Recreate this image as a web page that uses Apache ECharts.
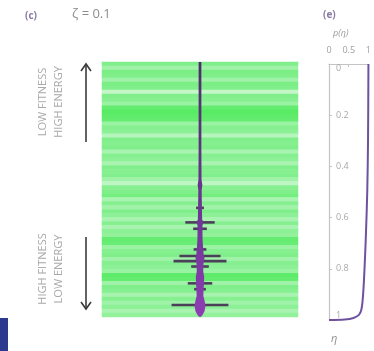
<!DOCTYPE html>
<html><head><meta charset="utf-8">
<script src="https://cdn.jsdelivr.net/npm/echarts@6/dist/echarts.min.js"></script>
<style>html,body{margin:0;padding:0;background:#fff}#c{width:374px;height:351px}</style>
</head><body><div id="c"></div>
<script>
// stripe intensities (top -> bottom), 0 = pale, 1 = bright green
const stripeIntensity = [0.6,0.35,0.65,0.6,0.35,0.65,0.6,0.1,0.6,0.55,0.4,0.85,0.95,0.9,0.85,0.4,
  0.55,0.5,0.2,0.6,0.55,0.6,0.3,0.55,0.5,0.3,0.6,0.55,0.6,0.35,0.15,0.55,
  0.6,0.7,0.3,0.55,0.35,0.6,0.5,0.3,0.55,0.3,0.5,0.45,0.85,0.8,0.4,0.55,
  0.6,0.35,0.55,0.5,0.4,0.9,0.85,0.35,0.6,0.55,0.3,0.55,0.35,0.5,0.3,0.45];
// spine profile: position along panel (0 top, 1 bottom) and half width
const spineEta  = [0,0.346,0.463,0.482,0.502,0.58,0.619,0.626,0.642,0.696,0.728,0.751,0.77,0.79,0.821,0.844,0.872,0.899,0.918,0.938,0.957,0.977,0.992,1.0];
const spineHalf = [0.014,0.014,0.016,0.024,0.017,0.02,0.022,0.036,0.025,0.026,0.032,0.036,0.046,0.036,0.033,0.043,0.04,0.036,0.034,0.048,0.056,0.046,0.026,0.006];
// error bars
const errEta  = [0.572,0.629,0.654,0.735,0.761,0.781,0.802,0.868,0.891,0.953];
const errHalf = [0.04,0.15,0.07,0.065,0.21,0.27,0.09,0.125,0.06,0.29];
// p(eta) curve
const curveEta = [0,0.3,0.5,0.65,0.75,0.85,0.92,0.96,0.98,0.992,0.998,1.0];
const curveP   = [1.0,0.99,0.97,0.94,0.915,0.885,0.855,0.82,0.76,0.62,0.4,0.0];
const pTicks = [0,0.5,1];
const etaTicks = [0,0.2,0.4,0.6,0.8,1];

const chart = echarts.init(document.getElementById('c'));
const FONT = '"Open Sans", "DejaVu Sans", sans-serif';
const rowCats = stripeIntensity.map((_, i) => 'r' + i);

chart.setOption({
  animation: false,
  grid: [
    {left: 102, top: 62, width: 196, height: 255},
    {left: 102, top: 62, width: 196, height: 255},
    {left: 329, top: 64, width: 40, height: 256}
  ],
  xAxis: [
    {gridIndex: 0, type: 'category', data: ['c'], show: false},
    {gridIndex: 1, type: 'value', min: -1, max: 1, show: false},
    {gridIndex: 2, type: 'value', position: 'top', min: 0, max: 1, interval: 0.5,
     axisLine: {show: true, lineStyle: {color: '#c4c4c4', width: 1.2}},
     axisTick: {show: true, inside: true, length: 3, lineStyle: {color: '#c4c4c4'}},
     splitLine: {show: false},
     axisLabel: {color: '#a0a0a0', fontSize: 9, margin: 9, fontFamily: FONT,
       formatter: v => pTicks.includes(v) ? String(v) : ''}}
  ],
  yAxis: [
    {gridIndex: 0, type: 'category', data: rowCats, inverse: true, show: false},
    {gridIndex: 1, type: 'value', min: 0, max: 1, inverse: true, show: false},
    {gridIndex: 2, type: 'value', min: 0, max: 1, interval: 0.2, inverse: true,
     axisLine: {show: true, lineStyle: {color: '#c4c4c4', width: 1.2}},
     axisTick: {show: true, inside: true, length: 3, lineStyle: {color: '#c4c4c4'}},
     splitLine: {show: false},
     axisLabel: {inside: true, color: '#a8a8a8', fontSize: 9, margin: 7, fontFamily: FONT,
       verticalAlignMinLabel: 'top', verticalAlignMaxLabel: 'bottom',
       formatter: v => { const t = etaTicks.find(e => Math.abs(e - v) < 1e-6); return t === undefined ? '' : String(t); }}}
  ],
  visualMap: {show: false, seriesIndex: 0, dimension: 2, min: 0, max: 1,
    inRange: {color: ['#d2f8d5', '#8cf096', '#52ea5e']}},
  series: [
    {type: 'heatmap', xAxisIndex: 0, yAxisIndex: 0,
     data: stripeIntensity.map((v, i) => [0, i, v]), itemStyle: {borderWidth: 0}},
    {type: 'custom', xAxisIndex: 1, yAxisIndex: 1, clip: false,
     data: errEta.map((e, i) => [e, errHalf[i]]),
     renderItem: (params, api) => {
       const e = api.value(0), h = api.value(1);
       const a = api.coord([-h, e]), b = api.coord([h, e]);
       return {type: 'line', shape: {x1: a[0], y1: a[1], x2: b[0], y2: b[1]},
         style: {stroke: '#4b3f5a', lineWidth: 2.6}};
     }},
    {type: 'custom', xAxisIndex: 1, yAxisIndex: 1, clip: false, z: 3,
     data: [[0, 0]],
     renderItem: (params, api) => {
       const pts = [];
       for (let i = 0; i < spineEta.length; i++) pts.push(api.coord([-spineHalf[i], spineEta[i]]));
       for (let i = spineEta.length - 1; i >= 0; i--) pts.push(api.coord([spineHalf[i], spineEta[i]]));
       return {type: 'polygon', shape: {points: pts, smooth: 0},
         style: {fill: {type: 'linear', x: 0, y: 62, x2: 0, y2: 317, global: true,
           colorStops: [{offset: 0, color: '#4e2d6c'}, {offset: 0.55, color: '#6a3590'}, {offset: 1, color: '#8e3db4'}]},
           stroke: null}};
     }},
    {type: 'line', xAxisIndex: 2, yAxisIndex: 2, clip: false, symbol: 'none', smooth: 0.3,
     data: curveEta.map((e, i) => [curveP[i], e]),
     lineStyle: {color: '#6e52a0', width: 2}}
  ],
  graphic: [
    {type: 'text', x: 25, y: 11, style: {text: '(c)', fill: '#8a7ba3', font: 'bold 10px ' + FONT}},
    {type: 'text', x: 72, y: 8, style: {text: 'ζ = 0.1', fill: '#8c8c8c', font: '13px ' + FONT}},
    {type: 'text', x: 323, y: 10, style: {text: '(e)', fill: '#8a7ba3', font: 'bold 10px ' + FONT}},
    {type: 'text', x: 333, y: 29, style: {text: 'p(η)', fill: '#9a9a9a', font: 'italic 9px ' + FONT}},
    {type: 'text', x: 331, y: 333, style: {text: 'η', fill: '#8c8c8c', font: 'italic 11px ' + FONT}},
    {type: 'text', x: 51, y: 102, rotation: Math.PI / 2,
     style: {text: 'LOW FITNESS\nHIGH ENERGY', fill: '#a8a8a8', font: '11px ' + FONT,
       textAlign: 'center', textVerticalAlign: 'middle', lineHeight: 16}},
    {type: 'text', x: 51, y: 269, rotation: Math.PI / 2,
     style: {text: 'HIGH FITNESS\nLOW ENERGY', fill: '#a8a8a8', font: '11px ' + FONT,
       textAlign: 'center', textVerticalAlign: 'middle', lineHeight: 16}},
    {type: 'line', shape: {x1: 86, y1: 142, x2: 86, y2: 65}, style: {stroke: '#3c3c3c', lineWidth: 1.6}},
    {type: 'polyline', shape: {points: [[81, 71], [86, 64], [91, 71]]}, style: {stroke: '#3c3c3c', lineWidth: 1.6, fill: null}},
    {type: 'line', shape: {x1: 86, y1: 237, x2: 86, y2: 308}, style: {stroke: '#3c3c3c', lineWidth: 1.6}},
    {type: 'polyline', shape: {points: [[81, 302], [86, 309], [91, 302]]}, style: {stroke: '#3c3c3c', lineWidth: 1.6, fill: null}},
    {type: 'rect', shape: {x: 0, y: 318, width: 8, height: 33}, style: {fill: '#2b3a8e'}}
  ]
});
</script></body></html>
